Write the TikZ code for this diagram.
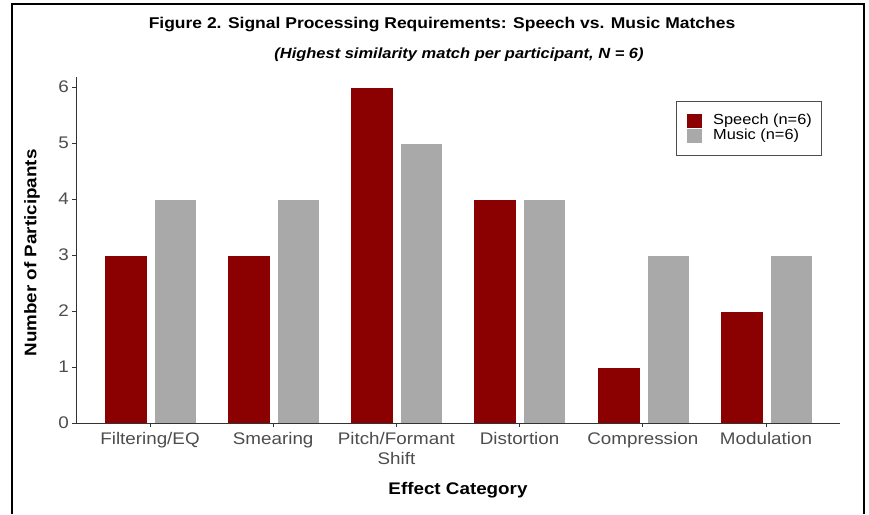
\documentclass[tikz,border=0pt]{standalone}
\usepackage{fontspec}
\setmainfont[FakeStretch=1.12]{Liberation Sans}
\definecolor{speech}{HTML}{8B0000}
\definecolor{music}{HTML}{A9A9A9}
\definecolor{axisgray}{HTML}{333333}
\definecolor{ticktext}{HTML}{4D4D4D}
\begin{document}
\begin{tikzpicture}[x=1pt,y=-1pt,
  bar/.style={draw=white,line width=0.6pt},
  ticklab/.style={text=ticktext,font=\fontsize{16.8}{20}\selectfont,inner sep=0pt},
  axislab/.style={font=\bfseries\fontsize{16.8}{19}\selectfont,inner sep=0pt},
  axisline/.style={draw=axisgray,line width=1pt},
  legtext/.style={font=\fontsize{14.6}{18}\selectfont,anchor=west,inner sep=0pt,text=black}]
\useasboundingbox (0,0) rectangle (869,514);
\fill[white] (0,0) rectangle (869,514);
% frame
\draw[black,line width=2pt] (11.5,514) -- (11.5,3.5) -- (863.5,3.5) -- (863.5,514);
% titles
\node[font=\bfseries\fontsize{15.6}{18}\selectfont,inner sep=0pt] (title) at (442,25) {Figure 2. Signal Processing Requirements: Speech vs. Music Matches};
\node[font=\bfseries\itshape\fontsize{14.7}{16}\selectfont,inner sep=0pt] (subtitle) at (459,55) {(Highest similarity match per participant, N = 6)};
% bars
\foreach \i/\s/\m in {0/3/4,1/3/4,2/6/5,3/4/4,4/1/3,5/2/3}{
  \pgfmathsetmacro{\cx}{150+123.2*\i}
  \fill[speech,bar] (\cx-46,423) rectangle (\cx-3,423-56*\s);
  \fill[music,bar] (\cx+4,423) rectangle (\cx+46,423-56*\m);
  \draw[axisline] (\cx,423) -- (\cx,427);
}
% axes
\coordinate (origin) at (76,423);
\coordinate (xend) at (840,423);
\coordinate (ytop) at (76,77);
\draw[axisline] (ytop) -- (origin) -- (xend);
\foreach \v in {0,...,6}{
  \draw[axisline] (72,423-56*\v) -- (76,423-56*\v);
  \node[ticklab,anchor=east] (y\v) at (69,423-56*\v) {\v};
}
% category labels
\node[ticklab,anchor=north] (c0) at (150,432.5) {Filtering/EQ};
\node[ticklab,anchor=north] (c1) at (273.2,432.5) {Smearing};
\node[ticklab,anchor=north,align=center] (c2) at (396.4,432.5) {Pitch/Formant\\Shift};
\node[ticklab,anchor=north] (c3) at (519.6,432.5) {Distortion};
\node[ticklab,anchor=north] (c4) at (642.8,432.5) {Compression};
\node[ticklab,anchor=north] (c5) at (766,432.5) {Modulation};
% axis titles
\node[axislab] (xlab) at (458,490) {Effect Category};
\node[axislab,rotate=90] (ylab) at (32,253) {Number of Participants};
% legend
\draw[draw=ticktext,line width=0.8pt,fill=white] (676,101) rectangle (821,155);
\fill[speech,bar] (686,113) rectangle (702,128);
\fill[music,bar] (686,128) rectangle (702,143);
\node[legtext] (lspeech) at (713,120.5) {Speech (n=6)};
\node[legtext] (lmusic) at (713,136) {Music (n=6)};
\end{tikzpicture}
\end{document}
